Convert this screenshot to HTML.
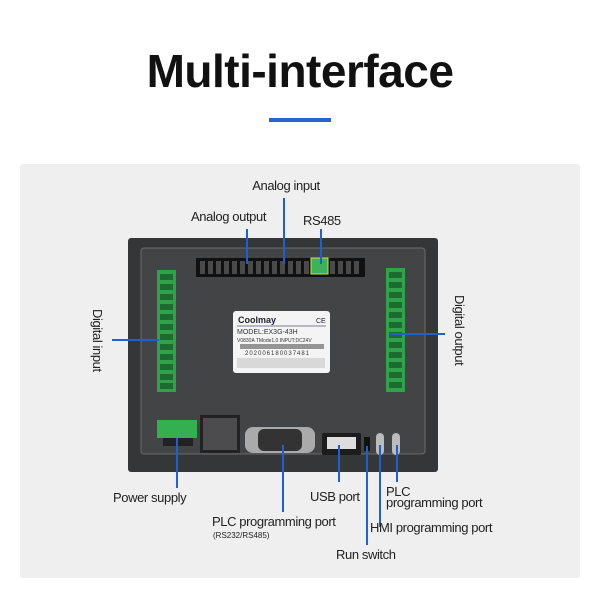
<!DOCTYPE html>
<html><head><meta charset="utf-8"><style>
html,body{margin:0;padding:0;background:#fff;width:600px;height:600px;overflow:hidden}
svg text{font-family:"Liberation Sans","DejaVu Sans",sans-serif}
</style></head><body>
<svg width="600" height="600" viewBox="0 0 600 600" xmlns="http://www.w3.org/2000/svg">
<rect width="600" height="600" fill="#fff"/>
<text x="300" y="87" text-anchor="middle" font-size="46" font-weight="bold" fill="#111" letter-spacing="-0.5">Multi-interface</text>
<rect x="269" y="118" width="62" height="4" fill="#2a62d0"/>
<rect x="20" y="164" width="560" height="414" rx="3" fill="#efefef"/>
<!-- device -->
<rect x="128" y="238" width="310" height="234" rx="3" fill="#353638"/>
<rect x="141" y="248" width="284" height="206" rx="3" fill="#434446" stroke="#6a6b6d" stroke-width="1"/>
<!-- vent -->
<rect x="196" y="258" width="169" height="19" fill="#111"/>
<g fill="#4a4a4a">
<rect x="200" y="261" width="5" height="13"/><rect x="208" y="261" width="5" height="13"/><rect x="216" y="261" width="5" height="13"/><rect x="224" y="261" width="5" height="13"/><rect x="232" y="261" width="5" height="13"/><rect x="240" y="261" width="5" height="13"/><rect x="248" y="261" width="5" height="13"/><rect x="256" y="261" width="5" height="13"/><rect x="264" y="261" width="5" height="13"/><rect x="272" y="261" width="5" height="13"/><rect x="280" y="261" width="5" height="13"/><rect x="288" y="261" width="5" height="13"/><rect x="296" y="261" width="5" height="13"/><rect x="304" y="261" width="5" height="13"/><rect x="330" y="261" width="5" height="13"/><rect x="338" y="261" width="5" height="13"/><rect x="346" y="261" width="5" height="13"/><rect x="354" y="261" width="5" height="13"/>
</g>
<rect x="311" y="258" width="17" height="16" fill="#3cb35a" stroke="#c8e83a"/>
<!-- terminals -->
<rect x="157" y="270" width="19" height="122" fill="#2fa24a"/>
<rect x="386" y="268" width="19" height="124" fill="#2fa24a"/>
<g fill="#1d6b30">
<rect x="160" y="274" width="13" height="6"/><rect x="160" y="284" width="13" height="6"/><rect x="160" y="294" width="13" height="6"/><rect x="160" y="304" width="13" height="6"/><rect x="160" y="314" width="13" height="6"/><rect x="160" y="324" width="13" height="6"/><rect x="160" y="334" width="13" height="6"/><rect x="160" y="344" width="13" height="6"/><rect x="160" y="354" width="13" height="6"/><rect x="160" y="364" width="13" height="6"/><rect x="160" y="374" width="13" height="6"/><rect x="160" y="383" width="13" height="6"/>
<rect x="389" y="272" width="13" height="6"/><rect x="389" y="282" width="13" height="6"/><rect x="389" y="292" width="13" height="6"/><rect x="389" y="302" width="13" height="6"/><rect x="389" y="312" width="13" height="6"/><rect x="389" y="322" width="13" height="6"/><rect x="389" y="332" width="13" height="6"/><rect x="389" y="342" width="13" height="6"/><rect x="389" y="352" width="13" height="6"/><rect x="389" y="362" width="13" height="6"/><rect x="389" y="372" width="13" height="6"/><rect x="389" y="382" width="13" height="6"/>
</g>
<!-- label -->
<rect x="233" y="311" width="97" height="62" rx="3" fill="#f4f4f4"/>
<text x="238" y="323" font-size="9" font-weight="bold" fill="#223">Coolmay</text>
<text x="316" y="323" font-size="7" fill="#223">CE</text>
<line x1="237" y1="326" x2="326" y2="326" stroke="#557" stroke-width="0.7"/>
<text x="237" y="334" font-size="7" fill="#333">MODEL:EX3G-43H</text>
<text x="237" y="342" font-size="5" fill="#333">V0830A   TMode1.0   INPUT:DC24V</text>
<rect x="240" y="344" width="84" height="5" fill="#555" opacity="0.6"/>
<text x="245" y="355" font-size="6" fill="#333" letter-spacing="1">202006180037481</text>
<rect x="237" y="358" width="88" height="10" fill="#bbb" opacity="0.5"/>
<!-- bottom ports -->
<rect x="157" y="420" width="40" height="18" fill="#35b050"/>
<rect x="163" y="438" width="30" height="8" fill="#222"/>
<rect x="200" y="415" width="40" height="38" fill="#222"/>
<rect x="203" y="418" width="34" height="32" fill="#4c4c4e"/>
<rect x="245" y="427" width="70" height="26" rx="8" fill="#aaa"/>
<rect x="258" y="429" width="44" height="22" rx="6" fill="#333"/>
<rect x="322" y="433" width="39" height="22" rx="2" fill="#1c1c1c"/>
<rect x="327" y="437" width="29" height="12" fill="#ddd"/>
<rect x="364" y="437" width="6" height="14" fill="#111"/>
<rect x="376" y="433" width="8" height="22" rx="4" fill="#bbb"/>
<rect x="392" y="433" width="8" height="22" rx="4" fill="#bbb"/>
<!-- lines -->
<g stroke="#1f5fd4" stroke-width="2" fill="none">
<line x1="247" y1="229" x2="247" y2="264"/>
<line x1="284" y1="198" x2="284" y2="264"/>
<line x1="321" y1="229" x2="321" y2="264"/>
<line x1="112" y1="340" x2="159" y2="340"/>
<line x1="390" y1="334" x2="445" y2="334"/>
<line x1="177" y1="438" x2="177" y2="488"/>
<line x1="283" y1="445" x2="283" y2="512"/>
<line x1="339" y1="445" x2="339" y2="482"/>
<line x1="367" y1="446" x2="367" y2="545"/>
<line x1="380" y1="445" x2="380" y2="527"/>
<line x1="397" y1="445" x2="397" y2="482"/>
</g>
<g font-size="13" fill="#222" letter-spacing="-0.4">
<text x="286" y="190" text-anchor="middle">Analog input</text>
<text x="191" y="221">Analog output</text>
<text x="303" y="225">RS485</text>
<text transform="translate(93,309) rotate(90)">Digital input</text>
<text transform="translate(455,295) rotate(90)">Digital output</text>
<text x="113" y="502">Power supply</text>
<text x="310" y="501">USB port</text>
<text x="386" y="496">PLC</text>
<text x="386" y="507">programming port</text>
<text x="212" y="526">PLC programming port</text>
<text x="370" y="532">HMI programming port</text>
<text x="336" y="559">Run switch</text>
</g>
<text x="213" y="538" font-size="8" fill="#222">(RS232/RS485)</text>
</svg>
</body></html>
